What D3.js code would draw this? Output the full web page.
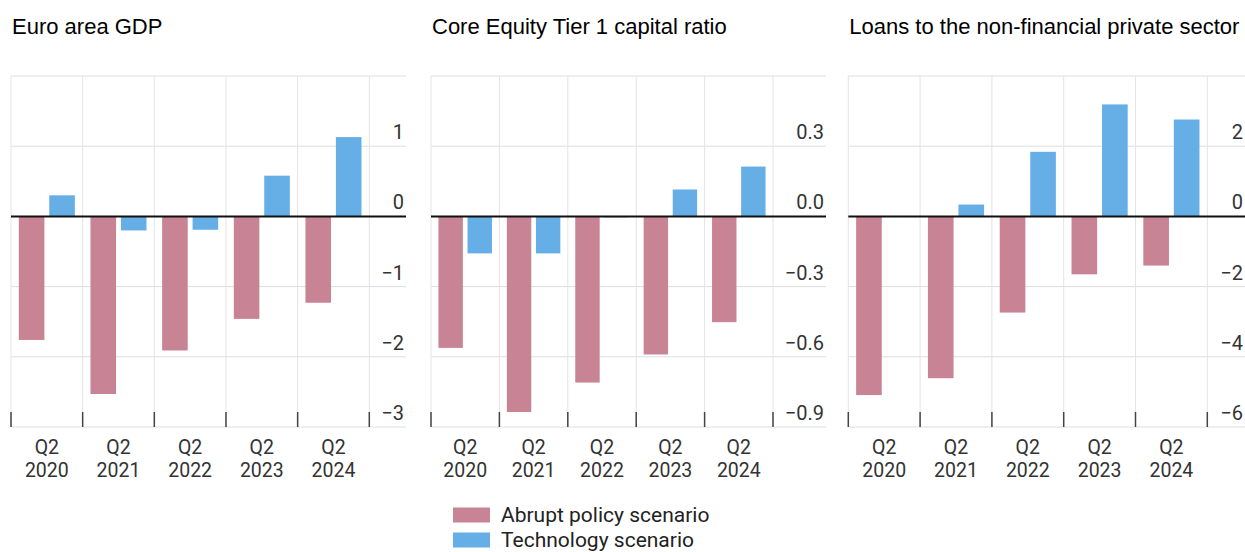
<!DOCTYPE html>
<html><head><meta charset="utf-8">
<script src="https://cdn.jsdelivr.net/npm/d3@7"></script>
<style>body{margin:0;background:#fff}svg{display:block}</style>
</head><body>
<svg id="c" width="1245" height="552"></svg>
<script>
const categories = ["Q2 2020","Q2 2021","Q2 2022","Q2 2023","Q2 2024"];
const seriesNames = ["Abrupt policy scenario","Technology scenario"];
const titles = ["Euro area GDP","Core Equity Tier 1 capital ratio","Loans to the non-financial private sector"];
const gdpAbrupt = [-1.76,-2.53,-1.91,-1.46,-1.23];
const gdpTech = [0.30,-0.20,-0.19,0.58,1.13];
const cet1Abrupt = [-0.562,-0.836,-0.71,-0.59,-0.452];
const cet1Tech = [-0.158,-0.158,-0.004,0.115,0.213];
const loansAbrupt = [-5.09,-4.61,-2.74,-1.65,-1.40];
const loansTech = [0,0.337,1.84,3.19,2.76];
const gdpTicks = [1,0,-1,-2,-3];
const cet1Ticks = [0.3,0.0,-0.3,-0.6,-0.9];
const loansTicks = [2,0,-2,-4,-6];
const gdpDomain = [-3,2], cet1Domain = [-0.9,0.6], loansDomain = [-6,4];

const colors = ["#c88394","#65aee6"];
const svg = d3.select("#c");
const plotTop = 76, plotBottom = 427;
const panels = [
  {title:titles[0], a:gdpAbrupt, t:gdpTech, ticks:gdpTicks, dom:gdpDomain, fmt:d3.format("d"), left:11, end:369.3, right:406},
  {title:titles[1], a:cet1Abrupt, t:cet1Tech, ticks:cet1Ticks, dom:cet1Domain, fmt:d3.format(".1f"), left:431, end:773, right:826},
  {title:titles[2], a:loansAbrupt, t:loansTech, ticks:loansTicks, dom:loansDomain, fmt:d3.format("d"), left:848.3, end:1207.3, right:1245}
];
const axisFont = "Roboto,'Open Sans',sans-serif";
const minus = s => s.replace("-", "\u2212");

panels.forEach(p => {
  const g = svg.append("g");
  g.append("text").attr("x", p.left + 1).attr("y", 34)
    .attr("font-family","'Liberation Sans',Arial,sans-serif").attr("font-size",22)
    .attr("fill","#000").text(p.title);
  const x = d3.scaleBand().domain(categories).range([p.left, p.end]);
  const bw = x.bandwidth();
  const x1 = d3.scaleBand().domain(seriesNames).range([0.109*bw, 0.891*bw]).paddingInner(0.16);
  const y = d3.scaleLinear().domain(p.dom).range([plotBottom, plotTop]);
  const gl = [p.dom[1]].concat(p.ticks);
  g.selectAll("line.h").data(gl).join("line")
    .attr("x1", p.left).attr("x2", p.right)
    .attr("y1", d => y(d)).attr("y2", d => y(d))
    .attr("stroke","#dedede").attr("stroke-width",1);
  const bounds = categories.map(c => x(c)).concat([p.end]);
  g.selectAll("line.v").data(bounds).join("line")
    .attr("x1", d => d).attr("x2", d => d).attr("y1", plotTop).attr("y2", plotBottom)
    .attr("stroke","#e4e4e4").attr("stroke-width",1);
  const data = categories.map((c,i) => [{c, s:seriesNames[0], v:p.a[i]},{c, s:seriesNames[1], v:p.t[i]}]).flat();
  g.selectAll("rect.bar").data(data).join("rect")
    .attr("x", d => x(d.c) + x1(d.s)).attr("width", x1.bandwidth())
    .attr("y", d => y(Math.max(0, d.v))).attr("height", d => Math.abs(y(d.v) - y(0)))
    .attr("fill", d => colors[seriesNames.indexOf(d.s)]);
  g.append("line").attr("x1", p.left).attr("x2", p.right).attr("y1", y(0)).attr("y2", y(0))
    .attr("stroke","#111").attr("stroke-width",2);
  g.selectAll("line.t").data(bounds).join("line")
    .attr("x1", d => d).attr("x2", d => d).attr("y1", plotBottom - 15).attr("y2", plotBottom)
    .attr("stroke","#444").attr("stroke-width",1.5);
  g.selectAll("text.yt").data(p.ticks).join("text")
    .attr("x", p.right - 2).attr("y", d => y(d) - 7)
    .attr("text-anchor","end").attr("font-family",axisFont).attr("font-size",20)
    .attr("fill","#333").text(d => minus(p.fmt(d)));
  g.selectAll("text.xq").data(categories).join("text")
    .attr("x", d => x(d) + bw/2).attr("y", 453.5)
    .attr("text-anchor","middle").attr("font-family",axisFont).attr("font-size",19.5).attr("fill","#333")
    .text(d => d.split(" ")[0]);
  g.selectAll("text.xy").data(categories).join("text")
    .attr("x", d => x(d) + bw/2).attr("y", 476.5)
    .attr("text-anchor","middle").attr("font-family",axisFont).attr("font-size",19.5).attr("fill","#333")
    .text(d => d.split(" ")[1]);
});

const lg = svg.append("g");
seriesNames.forEach((s,i) => {
  lg.append("rect").attr("x",453).attr("y",507.5 + i*25).attr("width",37).attr("height",15).attr("fill",colors[i]);
  lg.append("text").attr("x",501).attr("y",521.5 + i*25).attr("font-family",axisFont).attr("font-size",21)
    .attr("fill","#222").text(s);
});
</script>
</body></html>
